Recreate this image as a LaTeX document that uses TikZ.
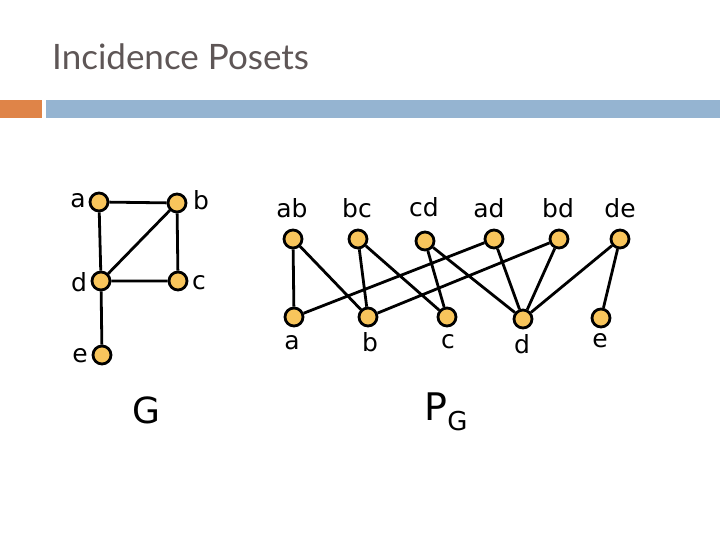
\documentclass[tikz,border=0pt]{standalone}
\usepackage{fontspec}
\setmainfont{DejaVu Sans}
\newfontfamily\titlefont{Lato}
\definecolor{nodefill}{HTML}{F8C55C}
\definecolor{barorange}{HTML}{DF8448}
\definecolor{barblue}{HTML}{95B4D1}
\definecolor{titlegray}{HTML}{5E5656}
\begin{document}
\begin{tikzpicture}[x=1pt,y=-1pt,
  vtx/.style={circle,draw=black,line width=2.8pt,fill=nodefill,minimum size=18pt,inner sep=0pt},
  lbl/.style={font=\fontsize{25}{25}\selectfont,inner sep=0pt},
  edge/.style={line width=2.8pt,black}]
\useasboundingbox (0,0) rectangle (720,540);
\node[anchor=west,text=titlegray,font=\titlefont\fontsize{35}{35}\selectfont,inner sep=0pt] (title) at (52,57) {Incidence Posets};
\fill[barorange] (0,100) rectangle (42,118);
\fill[barblue] (46,100) rectangle (720,118);
% graph G
\node[vtx] (a) at (99,202) {};
\node[vtx] (b) at (177,203) {};
\node[vtx] (d) at (101,281) {};
\node[vtx] (c) at (178,281) {};
\node[vtx] (e) at (102,355) {};
\draw[edge] (a)--(b) (a)--(d) (b)--(d) (b)--(c) (d)--(c) (d)--(e);
\node[lbl] (la) at (78,201) {a};
\node[lbl] (lb) at (201,200) {b};
\node[lbl] (ld) at (79,282) {d};
\node[lbl] (lc) at (199,283) {c};
\node[lbl] (le) at (80,356) {e};
\node[font=\fontsize{36}{36}\selectfont,inner sep=0pt] (G) at (146,410) {G};
% poset
\node[vtx] (ab) at (293,239) {};
\node[vtx] (bc) at (358,239) {};
\node[vtx] (cd) at (425,241) {};
\node[vtx] (ad) at (494,239) {};
\node[vtx] (bd) at (559,239) {};
\node[vtx] (de) at (620,239) {};
\node[vtx] (pa) at (294,317) {};
\node[vtx] (pb) at (368,317) {};
\node[vtx] (pc) at (447,317) {};
\node[vtx] (pd) at (523,319) {};
\node[vtx] (pe) at (601,318) {};
\draw[edge] (ab)--(pa) (ab)--(pb) (bc)--(pb) (bc)--(pc) (cd)--(pc) (cd)--(pd)
  (ad)--(pa) (ad)--(pd) (bd)--(pb) (bd)--(pd) (de)--(pd) (de)--(pe);
\node[lbl] (lab) at (292,208) {ab};
\node[lbl] (lbc) at (357,208) {bc};
\node[lbl] (lcd) at (424,207) {cd};
\node[lbl] (lad) at (489,208) {ad};
\node[lbl] (lbd) at (558,208) {bd};
\node[lbl] (lde) at (620,208) {de};
\node[lbl] (lpa) at (292,343) {a};
\node[lbl] (lpb) at (370,342) {b};
\node[lbl] (lpc) at (448,342) {c};
\node[lbl] (lpd) at (522,344) {d};
\node[lbl] (lpe) at (600,341) {e};
\node[font=\fontsize{38}{38}\selectfont,inner sep=0pt] (PG) at (446,412) {P\raisebox{-10pt}{\fontsize{26}{26}\selectfont G}};
\end{tikzpicture}
\end{document}
